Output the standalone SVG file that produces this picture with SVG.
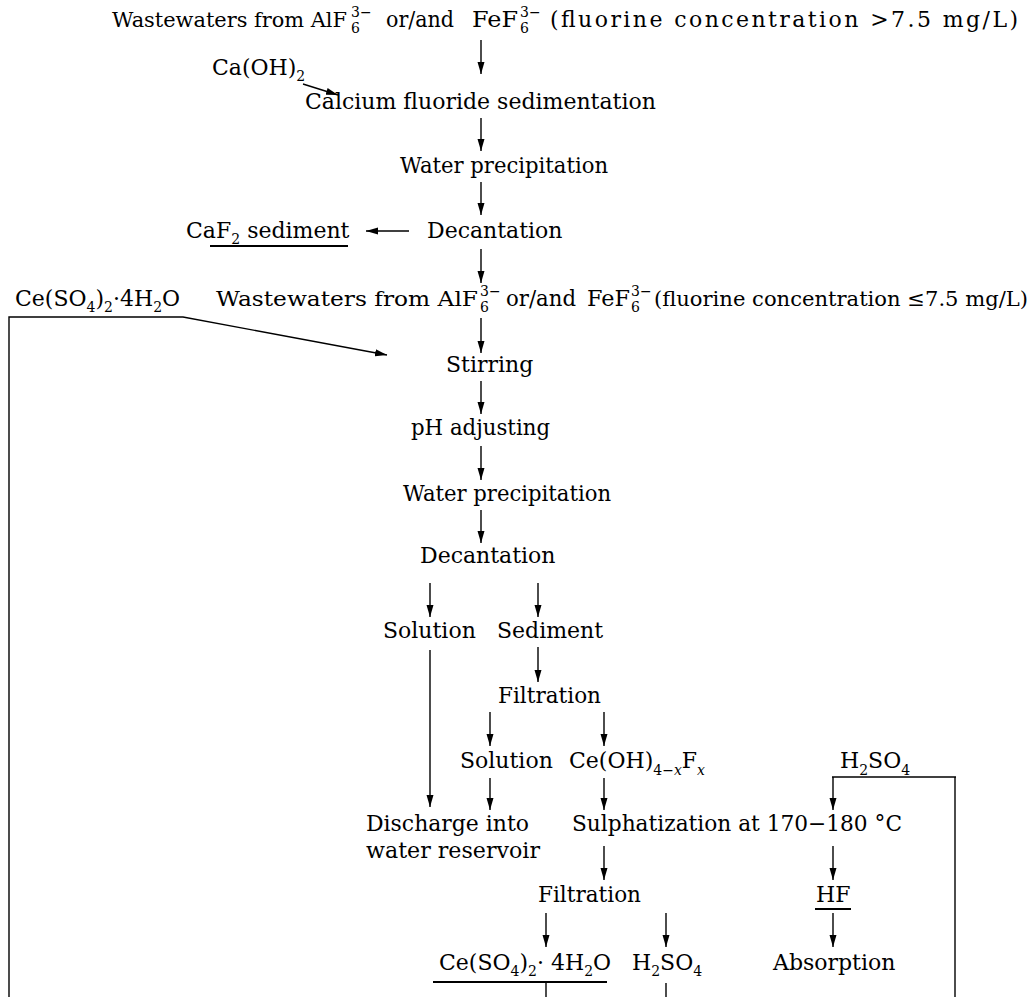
<svg xmlns="http://www.w3.org/2000/svg" width="1035" height="997" viewBox="0 0 1035 997">
<defs>
<marker id="ah" markerWidth="13" markerHeight="9" refX="12" refY="4.5" orient="auto" markerUnits="userSpaceOnUse"><path d="M0,1 L12,4.5 L0,8 z" fill="#000"/></marker>
<style>
text{font-family:"DejaVu Serif","Liberation Serif",serif;font-size:22px;fill:#000}
.s{font-size:14px}
.m{font-size:21px}
.i{font-style:italic}
.c line,.c path{stroke:#000;stroke-width:1.4;fill:none}
.a{marker-end:url(#ah)}
.u{stroke:#000;stroke-width:2}
</style>
</defs>
<rect width="1035" height="997" fill="#fff"/>

<g id="ww1">
<text class="m" x="112" y="27" textLength="235" lengthAdjust="spacingAndGlyphs">Wastewaters from AlF</text>
<text class="s" x="351" y="33">6<tspan x="351" y="17">3−</tspan></text>
<text x="386" y="27" textLength="68" lengthAdjust="spacingAndGlyphs">or/and</text>
<text x="472" y="27" textLength="46" lengthAdjust="spacingAndGlyphs">FeF</text>
<text class="s" x="520" y="33">6<tspan x="520" y="17">3−</tspan></text>
<text x="550" y="27" textLength="468" lengthAdjust="spacing">(fluorine concentration &gt;7.5 mg/L)</text>
</g>

<g id="caoh"><text x="212" y="75">Ca(OH)<tspan class="s" dy="6">2</tspan></text></g>
<g id="calcium"><text x="305" y="109">Calcium fluoride sedimentation</text></g>
<g id="wp1"><text x="400" y="173" textLength="208" lengthAdjust="spacingAndGlyphs">Water precipitation</text></g>
<g id="dec1"><text x="427" y="238">Decantation</text></g>
<g id="caf2"><text x="186" y="238">CaF<tspan class="s" dy="6">2</tspan><tspan dy="-6"> sediment</tspan></text><line class="u" x1="210" y1="246" x2="348" y2="246"/></g>

<g id="ceso4a">
<text x="15" y="306">Ce(SO<tspan class="s" dy="6">4</tspan><tspan dy="-6">)</tspan><tspan class="s" dy="6">2</tspan><tspan dy="-6">·4H</tspan><tspan class="s" dy="6">2</tspan><tspan dy="-6">O</tspan></text>
</g>

<g id="ww2">
<text class="m" x="216" y="306" textLength="262" lengthAdjust="spacingAndGlyphs">Wastewaters from AlF</text>
<text class="s" x="480" y="312">6<tspan x="480" y="296">3−</tspan></text>
<text x="506" y="306" textLength="70" lengthAdjust="spacingAndGlyphs">or/and</text>
<text x="587" y="306" textLength="43" lengthAdjust="spacingAndGlyphs">FeF</text>
<text class="s" x="631" y="312">6<tspan x="631" y="296">3−</tspan></text>
<text class="m" x="654" y="306" textLength="374" lengthAdjust="spacingAndGlyphs">(fluorine concentration ≤7.5 mg/L)</text>
</g>

<g id="stir"><text x="446" y="372">Stirring</text></g>
<g id="ph"><text x="411" y="435" textLength="139" lengthAdjust="spacingAndGlyphs">pH adjusting</text></g>
<g id="wp2"><text x="403" y="501" textLength="208" lengthAdjust="spacingAndGlyphs">Water precipitation</text></g>
<g id="dec2"><text x="420" y="563">Decantation</text></g>
<g id="sol1"><text x="383" y="638">Solution</text></g>
<g id="sed"><text x="497" y="638">Sediment</text></g>
<g id="filt1"><text x="498" y="703" textLength="103" lengthAdjust="spacingAndGlyphs">Filtration</text></g>
<g id="sol2"><text x="460" y="768">Solution</text></g>
<g id="ceoh"><text x="569" y="768">Ce(OH)<tspan class="s" dy="7">4−<tspan class="i">x</tspan></tspan><tspan dy="-7">F</tspan><tspan class="s i" dy="7">x</tspan></text></g>
<g id="h2so4a"><text x="840" y="768">H<tspan class="s" dy="7">2</tspan><tspan dy="-7">SO</tspan><tspan class="s" dy="7">4</tspan></text></g>
<g id="discharge"><text x="366" y="831" textLength="163" lengthAdjust="spacingAndGlyphs">Discharge into</text><text x="366" y="858" textLength="174" lengthAdjust="spacingAndGlyphs">water reservoir</text></g>
<g id="sulph"><text x="572" y="831" textLength="330" lengthAdjust="spacingAndGlyphs">Sulphatization at 170−180 °C</text></g>
<g id="filt2"><text x="538" y="902" textLength="103" lengthAdjust="spacingAndGlyphs">Filtration</text></g>
<g id="hf"><text x="816" y="902">HF</text><line class="u" x1="815" y1="909" x2="851" y2="909"/></g>
<g id="ceso4b">
<text x="439" y="970">Ce(SO<tspan class="s" dy="6">4</tspan><tspan dy="-6">)</tspan><tspan class="s" dy="6">2</tspan><tspan dy="-6">· 4H</tspan><tspan class="s" dy="6">2</tspan><tspan dy="-6">O</tspan></text>
<line class="u" x1="433" y1="982" x2="607" y2="982"/>
</g>
<g id="h2so4b"><text x="632" y="970">H<tspan class="s" dy="6">2</tspan><tspan dy="-6">SO</tspan><tspan class="s" dy="6">4</tspan></text></g>
<g id="absorp"><text x="773" y="970">Absorption</text></g>

<g id="connectors" class="c">
<line class="a" x1="481" y1="40" x2="481" y2="74"/>
<line class="a" x1="303" y1="84" x2="338" y2="95"/>
<line class="a" x1="481" y1="118" x2="481" y2="151"/>
<line class="a" x1="481" y1="182" x2="481" y2="215"/>
<line class="a" x1="409" y1="231" x2="366" y2="231"/>
<line class="a" x1="481" y1="249" x2="481" y2="283"/>
<path class="a" d="M9,997 V317 H183 L387,355"/>
<line class="a" x1="481" y1="318" x2="481" y2="353"/>
<line class="a" x1="481" y1="381" x2="481" y2="414"/>
<line class="a" x1="481" y1="446" x2="481" y2="480"/>
<line class="a" x1="481" y1="510" x2="481" y2="543"/>
<line class="a" x1="430" y1="583" x2="430" y2="617"/>
<line class="a" x1="538" y1="583" x2="538" y2="617"/>
<line class="a" x1="430" y1="650" x2="430" y2="807"/>
<line class="a" x1="538" y1="647" x2="538" y2="682"/>
<line class="a" x1="490" y1="712" x2="490" y2="746"/>
<line class="a" x1="604" y1="712" x2="604" y2="746"/>
<line class="a" x1="490" y1="778" x2="490" y2="810"/>
<line class="a" x1="604" y1="778" x2="604" y2="810"/>
<path d="M955,997 V777"/>
<path class="a" d="M833,777 V810"/>
<line class="u" x1="832" y1="777" x2="956" y2="777"/>
<line class="a" x1="604" y1="846" x2="604" y2="880"/>
<line class="a" x1="833" y1="846" x2="833" y2="880"/>
<line class="a" x1="546" y1="913" x2="546" y2="947"/>
<line class="a" x1="666" y1="913" x2="666" y2="947"/>
<line class="a" x1="833" y1="913" x2="833" y2="947"/>
<path d="M546,982 V997"/>
<path d="M666,983 V997"/>
</g>
</svg>
